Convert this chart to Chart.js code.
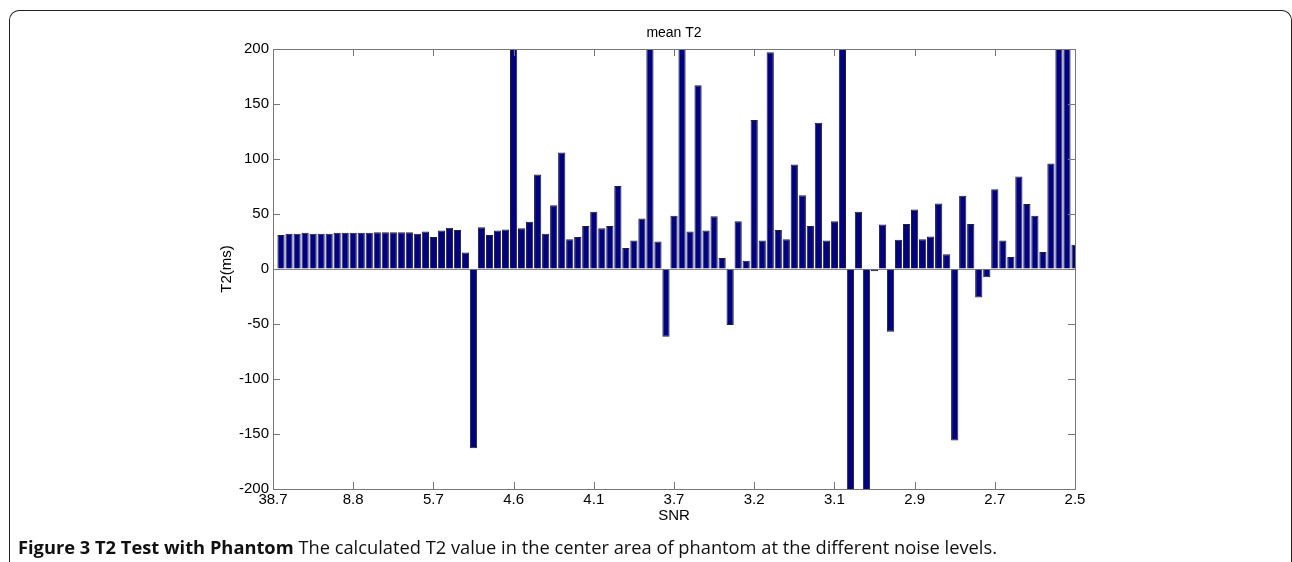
<!DOCTYPE html>
<html>
<head>
<meta charset="utf-8">
<script src="https://cdn.jsdelivr.net/npm/chart.js@4.4.0/dist/chart.umd.min.js"></script>
<style>
  html, body { margin: 0; padding: 0; background: #fff; }
  #wrap { position: relative; width: 1292px; height: 562px; overflow: hidden; }
  #frame {
    position: absolute; left: 9px; top: 10px; width: 1281px; height: 600px;
    border: 1px solid #222; border-bottom: none; border-radius: 10px 10px 0 0;
  }
  #canvas { position: absolute; left: 0; top: 0; }
  #caption {
    position: absolute; left: 18px; top: 534px;
    font-family: "Open Sans", sans-serif; font-size: 18.3px; color: #111; white-space: nowrap;
  }
  #caption b { font-weight: 700; }
</style>
</head>
<body>
<div id="wrap">
  <div id="frame"></div>
  <canvas id="canvas" width="1292" height="562"></canvas>
  <div id="caption"><b>Figure 3 T2 Test with Phantom</b> The calculated T2 value in the center area of phantom at the different noise levels.</div>
</div>
<script>
// mean T2 per noise level (bars off the scale are clipped at +/-200)
const t2Values = [
    31, 32, 32, 33, 32, 32, 32, 33, 33, 33,
    33, 33, 33.5, 33.5, 33.5, 33.5, 33.5, 32, 34, 29,
    35, 37.5, 35.5, 15, -163, 38, 31, 35, 36, 250,
    37, 43, 86, 32, 58, 106, 27, 29, 39, 52,
    37, 39, 75.5, 19, 26, 46, 250, 25, -61.5, 48.5,
    250, 34, 167, 35, 48, 10, -51, 43.5, 7.5, 135.5,
    26, 197, 35.5, 27, 95, 67, 39, 133, 26, 43.5,
    250, -250, 52, -250, -2, 40.5, -57, 26.5, 41, 54,
    27, 29.5, 59.5, 13.5, -156, 66.5, 41, -26, -7.5, 72.5,
    26, 11, 84, 59, 48.5, 15.5, 96, 250, 250, 22
]
const snrLabels = ['38.7', '8.8', '5.7', '4.6', '4.1', '3.7', '3.2', '3.1', '2.9', '2.7', '2.5']
const yTicks = [-200, -150, -100, -50, 0, 50, 100, 150, 200]

const points = t2Values.map((v, i) => ({ x: i + 1, y: v }))

const axisColor = '#777'
const labelFont = { family: '"Liberation Sans", Arial, sans-serif', size: 15 }

// matlab style box: frame all around, ticks pointing inward, title on top
const boxPlugin = {
    id: 'box',
    afterDatasetsDraw(chart) {
        const { ctx, chartArea: a, scales } = chart
        ctx.save()
        ctx.strokeStyle = axisColor
        ctx.lineWidth = 1
        ctx.strokeRect(Math.round(a.left) + 0.5, Math.round(a.top) + 0.5,
            Math.round(a.right - a.left), Math.round(a.bottom - a.top))
        const len = 7
        ctx.beginPath()
        scales.x.ticks.forEach((t, i) => {
            const px = Math.round(scales.x.getPixelForTick(i)) + 0.5
            ctx.moveTo(px, a.bottom); ctx.lineTo(px, a.bottom - len)
            ctx.moveTo(px, a.top); ctx.lineTo(px, a.top + len)
        })
        scales.y.ticks.forEach((t, i) => {
            const py = Math.round(scales.y.getPixelForTick(i)) + 0.5
            ctx.moveTo(a.left, py); ctx.lineTo(a.left + len, py)
            ctx.moveTo(a.right, py); ctx.lineTo(a.right - len, py)
        })
        ctx.stroke()
        ctx.fillStyle = '#000'
        ctx.font = '14px "Liberation Sans", Arial, sans-serif'
        ctx.textAlign = 'center'
        ctx.textBaseline = 'middle'
        ctx.fillText('mean T2', (a.left + a.right) / 2, a.top - 16)
        ctx.restore()
    }
}

const ctx = document.getElementById('canvas').getContext('2d')
const myChart = new Chart(ctx, {
    type: 'bar',
    data: {
        datasets: [{
            label: 'mean T2',
            data: points,
            backgroundColor: '#000088',
            borderColor: '#222',
            borderWidth: 1,
            categoryPercentage: 1,
            barPercentage: 0.9,
            clip: 0
        }]
    },
    options: {
        responsive: false,
        animation: false,
        devicePixelRatio: 1,
        layout: { padding: { left: 218, top: 49, right: 217, bottom: 37 } },
        plugins: { legend: { display: false }, tooltip: { enabled: false } },
        scales: {
            x: {
                type: 'linear',
                offset: false,
                min: 0,
                max: 100,
                grid: { display: false, drawTicks: false, offset: false },
                border: { display: false },
                ticks: {
                    stepSize: 10,
                    padding: 2,
                    color: '#000',
                    font: labelFont,
                    maxRotation: 0,
                    autoSkip: false,
                    callback: (v) => snrLabels[Math.round(v / 10)]
                },
                title: { display: true, text: 'SNR', color: '#000', font: labelFont, padding: 0 },
                afterFit: (s) => { s.height = 36 }
            },
            y: {
                min: -200,
                max: 200,
                afterBuildTicks: (s) => { s.ticks = yTicks.map(v => ({ value: v })) },
                grid: {
                    drawTicks: false,
                    color: (c) => c.tick && c.tick.value === 0 ? '#888' : 'transparent'
                },
                border: { display: false },
                ticks: { padding: 4, color: '#000', font: labelFont },
                title: { display: true, text: 'T2(ms)', color: '#000', font: labelFont, padding: 0 },
                afterFit: (s) => { s.width = 55 }
            }
        }
    },
    plugins: [boxPlugin]
})
</script>
</body>
</html>
